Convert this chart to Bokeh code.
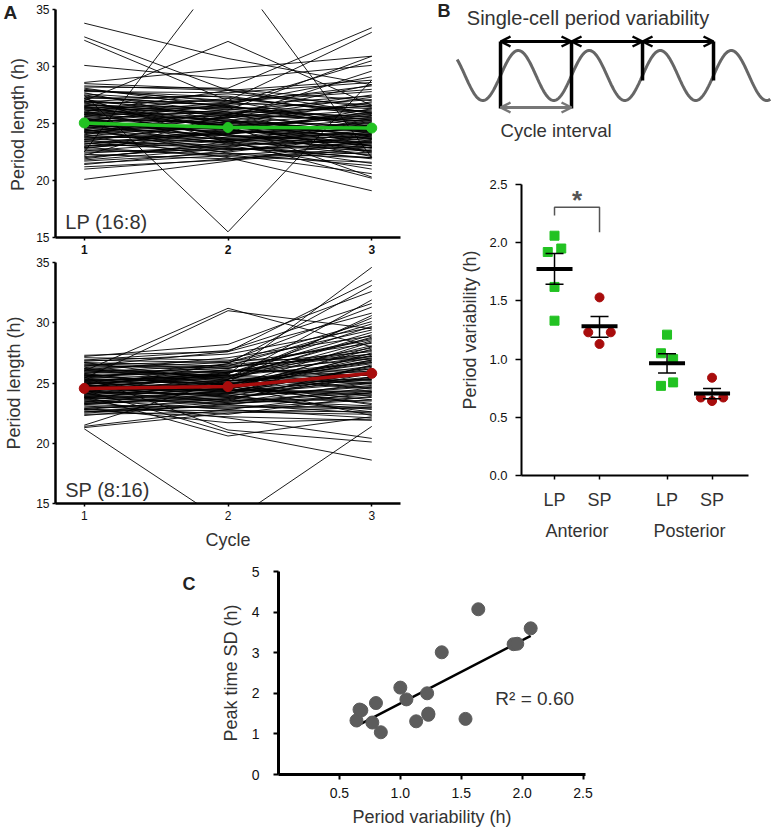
import numpy as np
from bokeh.plotting import figure
from bokeh.layouts import column, row
from bokeh.models import (Range1d, FixedTicker, LinearAxis, Arrow, OpenHead,
                          ColumnDataSource, NumeralTickFormatter)
from bokeh.embed import file_html
from bokeh.resources import INLINE
from bokeh.core.properties import value

FONT = "Liberation Sans"

# ---------------- Panel A data ----------------
cycles = [1, 2, 3]
cycle_labels = ["1", "2", "3"]

lp_cells = [
    (25.1, 24.6, 24.3), (26.3, 25.2, 24.8), (23.8, 24.1, 25.0), (27.5, 26.0, 24.1),
    (22.4, 23.0, 23.7), (24.6, 25.3, 26.2), (28.1, 26.4, 25.5), (21.5, 22.2, 23.1),
    (25.8, 24.0, 22.6), (24.0, 23.3, 24.4), (26.9, 27.6, 26.6), (23.2, 24.5, 23.0),
    (25.5, 25.0, 26.9), (27.9, 27.3, 25.9), (22.9, 22.1, 21.6), (24.3, 24.8, 25.5),
    (26.0, 23.9, 23.4), (21.9, 23.4, 24.8), (25.3, 26.2, 27.1), (27.1, 25.6, 23.8),
    (23.5, 22.8, 22.3), (24.8, 24.3, 24.0), (26.6, 25.9, 25.2), (22.1, 22.9, 22.0),
    (25.9, 26.8, 28.3), (23.0, 23.8, 24.6), (28.3, 27.9, 26.4), (24.4, 23.6, 22.9),
    (26.2, 24.7, 25.8), (21.2, 21.8, 22.5), (25.0, 25.7, 24.5), (27.3, 26.6, 27.4),
    (23.7, 24.0, 23.3), (24.9, 23.2, 21.9), (26.8, 27.0, 28.0), (22.6, 23.5, 24.2),
    (25.6, 24.9, 23.6), (24.1, 25.5, 26.6), (27.7, 25.1, 24.4), (23.3, 22.5, 23.9),
    (25.2, 24.2, 25.1), (26.4, 26.3, 24.9), (22.8, 24.3, 25.4), (24.7, 23.9, 23.1),
    (28.0, 26.9, 27.8), (23.9, 25.0, 25.9), (25.7, 25.4, 22.8), (21.7, 22.4, 21.3),
    (26.1, 27.2, 26.0), (24.2, 24.6, 24.7), (27.0, 24.4, 23.5), (22.3, 21.9, 22.7),
    (25.4, 23.7, 24.2), (26.7, 25.8, 27.5), (23.6, 24.9, 22.4), (24.5, 22.7, 23.2),
    (27.4, 26.5, 25.3), (22.0, 23.2, 23.4), (25.8, 25.9, 26.5), (23.1, 23.0, 24.1),
    (26.5, 24.5, 22.1), (24.0, 26.1, 25.6), (28.5, 28.0, 27.0), (21.4, 22.6, 24.0),
    (25.3, 25.1, 23.9), (26.9, 26.7, 29.1), (23.4, 23.1, 21.0), (24.6, 24.0, 26.3),
    (27.8, 27.7, 28.6), (22.7, 22.3, 20.6), (25.9, 24.8, 24.6), (24.3, 25.6, 27.3),
    (26.3, 26.0, 23.0), (23.0, 24.4, 26.0), (25.0, 23.5, 20.2),
    (24.4, 24.9, 23.7), (25.5, 23.6, 23.3), (26.6, 26.4, 26.1), (23.6, 23.4, 22.6),
    (25.1, 25.8, 25.2), (27.6, 26.8, 26.3), (22.5, 22.7, 23.3), (24.9, 24.5, 25.7),
    (26.0, 25.3, 24.3), (23.2, 24.2, 24.5), (25.6, 26.5, 25.0), (24.7, 24.9, 22.5),
    (26.2, 25.5, 26.8), (23.8, 23.7, 23.8), (27.2, 27.4, 25.7), (22.9, 23.6, 22.2),
    (25.3, 24.1, 24.8), (24.2, 23.4, 25.3), (26.8, 25.0, 24.0), (23.4, 25.2, 24.3),
    (25.8, 26.6, 24.6), (24.5, 22.4, 22.0), (26.5, 25.7, 25.4), (21.8, 22.8, 22.9),
    (25.2, 24.4, 23.7),
    (33.8, 30.7, 28.4), (32.6, 27.9, 25.9), (32.3, 27.0, 24.7), (30.1, 28.9, 30.1),
    (28.6, 29.8, 30.9), (20.1, 21.7, 23.6), (22.5, 39.0, 22.0), (27.5, 15.5, 28.8),
    (27.0, 32.2, 26.6), (28.2, 28.1, 33.4), (27.9, 27.0, 33.0), (26.9, 26.2, 30.9),
    (25.2, 26.7, 30.5), (24.8, 25.5, 29.6), (26.0, 27.9, 28.8), (23.9, 22.0, 19.1),
    (26.4, 24.8, 20.3), (27.2, 23.3, 21.5), (22.2, 25.8, 28.4), (21.0, 21.9, 22.9),
]
lp_mean = [25.05, 24.65, 24.6]

sp_cells = [
    (24.5, 24.6, 25.7), (25.3, 25.1, 26.8), (23.8, 24.2, 25.1), (26.1, 25.9, 27.9),
    (22.9, 23.5, 24.3), (24.9, 25.6, 27.2), (25.8, 24.4, 24.0), (23.2, 22.9, 23.6),
    (24.1, 24.9, 26.4), (26.6, 26.2, 28.6), (23.5, 23.9, 22.8), (25.0, 24.2, 25.4),
    (24.3, 25.3, 28.1), (22.6, 23.1, 23.0), (25.6, 26.0, 26.1), (24.7, 23.8, 24.8),
    (26.9, 26.7, 29.4), (23.9, 24.5, 26.9), (25.2, 25.7, 25.0), (22.4, 22.6, 22.4),
    (24.8, 24.1, 27.5), (26.3, 25.4, 24.5), (23.3, 23.6, 25.8), (25.5, 26.4, 29.9),
    (24.0, 24.7, 23.3), (27.1, 26.9, 27.0), (23.6, 22.8, 22.1), (25.1, 25.0, 26.6),
    (24.4, 23.4, 24.2), (26.0, 27.1, 28.9), (22.8, 23.7, 25.5), (25.7, 24.8, 23.6),
    (24.2, 25.9, 27.7), (23.1, 22.4, 23.9), (25.9, 25.5, 30.4), (24.6, 24.3, 26.2),
    (26.7, 25.2, 25.3), (23.7, 24.0, 22.6), (25.4, 26.6, 28.3), (24.9, 23.9, 25.9),
    (22.5, 23.2, 24.6), (26.4, 26.3, 27.4), (23.4, 24.4, 28.0), (25.3, 24.5, 24.1),
    (24.1, 25.2, 26.0), (27.3, 27.6, 30.8), (23.0, 23.0, 22.9), (25.6, 24.7, 27.1),
    (24.5, 25.8, 29.2), (26.2, 24.9, 23.2), (22.7, 22.2, 21.9), (25.0, 26.1, 25.6),
    (24.8, 23.5, 26.5), (23.8, 24.6, 27.3), (26.5, 26.8, 31.3), (24.3, 24.0, 24.4),
    (25.7, 25.3, 28.5), (23.5, 22.1, 20.4), (24.6, 25.0, 25.2), (26.8, 27.4, 29.6),
    (22.3, 23.3, 23.8), (25.1, 24.3, 26.3), (24.0, 24.8, 22.3), (25.9, 26.5, 27.6),
    (23.3, 23.8, 24.7), (24.7, 25.4, 29.0), (26.1, 25.6, 26.7), (24.2, 24.1, 25.0),
    (24.8, 24.4, 25.5), (25.6, 25.9, 27.0), (23.9, 23.3, 24.0), (25.2, 25.5, 28.8),
    (24.4, 24.9, 26.7), (26.5, 26.0, 25.9), (23.4, 23.7, 23.5), (25.0, 24.6, 27.8),
    (24.7, 25.5, 24.6), (26.2, 26.7, 30.1), (23.6, 24.3, 25.3), (25.4, 24.9, 26.9),
    (24.0, 23.6, 23.1), (25.8, 26.2, 28.7), (22.8, 22.7, 22.6), (24.9, 25.9, 27.4),
    (26.0, 25.6, 24.9), (23.2, 24.1, 26.4), (25.5, 25.2, 25.8), (24.3, 24.7, 28.4),
    (26.7, 26.4, 27.2), (23.8, 23.2, 22.5), (25.1, 25.8, 29.7), (24.6, 24.4, 24.3),
    (22.6, 23.4, 25.0),
    (21.2, 13.3, 21.4), (21.4, 22.8, 24.2), (21.3, 22.5, 23.0), (21.5, 25.3, 31.9),
    (26.0, 31.2, 28.0), (25.4, 31.0, 29.5), (27.2, 28.2, 32.6), (26.4, 27.6, 33.5),
    (24.9, 25.7, 34.6), (23.9, 20.6, 22.2), (24.4, 20.9, 18.6), (25.5, 21.1, 20.1),
    (22.9, 21.7, 22.0), (26.9, 27.7, 31.6), (24.6, 26.6, 33.1), (23.7, 25.1, 30.6),
]
sp_mean = [24.55, 24.7, 25.8]
a_yticks = [15, 20, 25, 30, 35]
a_ylabel = "Period length (h)"

GREEN = "#22c222"
RED = "#a80c0c"


def style_axis(ax, tick_px, label_px=18):
    ax.major_label_text_font = FONT
    ax.major_label_text_font_size = f"{tick_px}px"
    ax.major_label_text_color = "#111111"
    ax.axis_label_text_font = FONT
    ax.axis_label_text_font_style = "normal"
    ax.axis_label_text_font_size = f"{label_px}px"
    ax.axis_label_text_color = "#333333"
    ax.minor_tick_line_color = None
    ax.axis_line_color = "black"
    ax.major_tick_line_color = "black"


def blank_fig(width, height):
    f = figure(width=width, height=height, x_range=Range1d(0, width), y_range=Range1d(height, 0),
               output_backend="svg", toolbar_location=None, x_axis_location=None,
               y_axis_location=None, min_border=0, min_border_left=0, min_border_right=0,
               min_border_top=0, min_border_bottom=0)
    f.frame_align = False
    f.grid.grid_line_color = None
    f.outline_line_color = None
    return f


def panel_a(cells, mean, color, width, height, left, top, bottom, bold, tag, tag_y, ylabel, xlabel):
    p = figure(width=width, height=height, x_range=Range1d(0.8, 3.2), y_range=Range1d(15, 35),
               output_backend="svg", toolbar_location=None,
               min_border_left=left, min_border_right=10, min_border_top=top,
               min_border_bottom=bottom)
    p.frame_align = False
    p.grid.grid_line_color = None
    p.outline_line_color = None
    xs = [cycles for _ in cells]
    ys = [list(c) for c in cells]
    p.multi_line(xs, ys, line_color="black", line_width=0.9)
    p.line(cycles, mean, line_color=color, line_width=3.5)
    p.scatter(cycles, mean, size=10, color=color)
    p.xaxis.ticker = FixedTicker(ticks=cycles)
    p.xaxis.major_label_overrides = {c: l for c, l in zip(cycles, cycle_labels)}
    p.yaxis.ticker = FixedTicker(ticks=a_yticks)
    for ax in (p.xaxis[0], p.yaxis[0]):
        style_axis(ax, 12)
        ax.axis_line_width = 2.5
        ax.major_tick_line_width = 1.5
        ax.major_tick_out = 3
        ax.major_tick_in = 0
    p.yaxis.major_label_standoff = 3
    if ylabel:
        p.yaxis.axis_label = ylabel
        p.yaxis.axis_label_standoff = 9
    p.xaxis.major_label_standoff = 4
    if bold:
        p.xaxis.major_label_text_font_style = "bold"
    if xlabel:
        p.xaxis.axis_label = xlabel
        p.xaxis.axis_label_standoff = 7
    p.text(x=[0.868], y=[tag_y], text=[tag], text_font=value(FONT), text_font_size="20px",
           text_color="#333333", text_baseline="middle", text_align="left")
    return p


# left strip for panel A (letter + y label of the upper plot)
pAL = blank_fig(30, 256)
pAL.text(x=[3], y=[12], text=["A"], text_font=value(FONT), text_font_size="19px",
         text_font_style="bold", text_color="#222222", text_baseline="middle", text_align="left")
pAL.text(x=[17], y=[124], text=[a_ylabel], text_font=value(FONT), text_font_size="18px",
         text_color="#333333", text_baseline="middle", text_align="center", angle=np.pi / 2)

pA1 = panel_a(lp_cells, lp_mean, GREEN, 380, 256, 25, 9, 17, True, "LP (16:8)", 16.39, None, None)
pA2 = panel_a(sp_cells, sp_mean, RED, 410, 298, 55, 6, 51, False, "SP (8:16)", 16.08,
              a_ylabel, "Cycle")

# ---------------- Panel B schematic ----------------
cycle_marks = [0, 1, 2, 3]
mark_bottoms = [-1.32, -1.32, -0.2, -0.2]
arrow_level = 1.36
interval_level = -1.28

pD = figure(width=366, height=160, x_range=Range1d(-1.268, 3.887), y_range=Range1d(-3.4, 3.0),
            output_backend="svg", toolbar_location=None, x_axis_location=None,
            y_axis_location=None, min_border=0, min_border_left=0, min_border_right=0,
            min_border_top=0, min_border_bottom=0)
pD.frame_align = False
pD.grid.grid_line_color = None
pD.outline_line_color = None
t = np.linspace(-0.61, 3.8, 500)
pD.line(t, np.sin(2 * np.pi * t), line_color="#666666", line_width=3)
pD.segment(x0=cycle_marks, y0=[arrow_level] * 4, x1=cycle_marks, y1=mark_bottoms,
           line_color="black", line_width=3.5)
arr_src = ColumnDataSource(dict(x0=cycle_marks[:-1], x1=cycle_marks[1:], y=[arrow_level] * 3))
pD.add_layout(Arrow(source=arr_src, x_start="x0", x_end="x1", y_start="y", y_end="y",
                    line_width=3, line_color="black",
                    start=OpenHead(size=10, line_width=2.5, line_color="black"),
                    end=OpenHead(size=10, line_width=2.5, line_color="black")))
pD.add_layout(Arrow(x_start=cycle_marks[0], x_end=cycle_marks[1], y_start=interval_level,
                    y_end=interval_level, line_width=3, line_color="#777777",
                    start=OpenHead(size=10, line_width=2.5, line_color="#777777"),
                    end=OpenHead(size=10, line_width=2.5, line_color="#777777")))
pD.text(x=[1.232], y=[2.32], text=["Single-cell period variability"], text_font=value(FONT),
        text_font_size="20px", text_color="#333333", text_align="center", text_baseline="middle")
pD.text(x=[0.0], y=[-2.2], text=["Cycle interval"], text_font=value(FONT),
        text_font_size="18.5px", text_color="#333333", text_align="left", text_baseline="middle")
pD.text(x=[-0.887], y=[2.6], text=["B"], text_font=value(FONT), text_font_style="bold",
        text_font_size="18px", text_color="#222222", text_align="left", text_baseline="middle")

# ---------------- Panel B scatter ----------------
group_pos = [2, 4, 7, 9]
group_ticks = ["LP", "SP", "LP", "SP"]
region_pos = [3, 8]
region_labels = ["Anterior", "Posterior"]

ant_lp = [2.06, 1.95, 1.92, 1.62, 1.33]
ant_lp_off = [0.0, 0.3, -0.3, 0.0, 0.0]
ant_sp = [1.53, 1.23, 1.23, 1.13]
ant_sp_off = [0.0, -0.5, 0.5, 0.0]
post_lp = [1.21, 1.05, 1.00, 0.80, 0.77]
post_lp_off = [0.0, -0.27, 0.27, 0.27, -0.27]
post_sp = [0.84, 0.67, 0.67, 0.64]
post_sp_off = [0.0, -0.5, 0.5, 0.0]
group_mean = [1.775, 1.283, 0.965, 0.704]
sem_hi = [1.907, 1.366, 1.045, 0.747]
sem_lo = [1.644, 1.188, 0.88, 0.659]
sig_y = [2.234, 2.305, 2.305, 2.09]

pB = figure(width=366, height=395, x_range=Range1d(0.533, 10.62), y_range=Range1d(0, 2.5),
            output_backend="svg", toolbar_location=None,
            min_border_left=111, min_border_right=28, min_border_top=24, min_border_bottom=80)
pB.frame_align = False
pB.grid.grid_line_color = None
pB.outline_line_color = None

pB.scatter([group_pos[0] + o for o in ant_lp_off], ant_lp, marker="square", size=9,
           color=GREEN)
pB.scatter([group_pos[1] + o for o in ant_sp_off], ant_sp, marker="circle", size=9,
           color=RED)
pB.scatter([group_pos[2] + o for o in post_lp_off], post_lp, marker="square", size=9,
           color=GREEN)
pB.scatter([group_pos[3] + o for o in post_sp_off], post_sp, marker="circle", size=9,
           color=RED)
pB.segment(x0=group_pos, y0=sem_lo, x1=group_pos, y1=sem_hi, line_color="black", line_width=1.5)
pB.segment(x0=[g - 0.4 for g in group_pos], y0=sem_hi, x1=[g + 0.4 for g in group_pos], y1=sem_hi,
           line_color="black", line_width=1.5)
pB.segment(x0=[g - 0.4 for g in group_pos], y0=sem_lo, x1=[g + 0.4 for g in group_pos], y1=sem_lo,
           line_color="black", line_width=1.5)
pB.segment(x0=[g - 0.8 for g in group_pos], y0=group_mean, x1=[g + 0.8 for g in group_pos],
           y1=group_mean, line_color="black", line_width=4)
pB.line([group_pos[0], group_pos[0], group_pos[1], group_pos[1]], sig_y,
        line_color="#555555", line_width=1.5)
pB.text(x=[3.0], y=[2.37], text=["*"], text_font=value(FONT), text_font_size="26px",
        text_font_style="bold", text_color="#555555", text_align="center", text_baseline="middle")

pB.yaxis.ticker = FixedTicker(ticks=[0, 0.5, 1.0, 1.5, 2.0, 2.5])
pB.yaxis.formatter = NumeralTickFormatter(format="0.0")
pB.xaxis.ticker = FixedTicker(ticks=group_pos)
pB.xaxis.major_label_overrides = {g: l for g, l in zip(group_pos, group_ticks)}
for ax in (pB.xaxis[0], pB.yaxis[0]):
    style_axis(ax, 13)
    ax.axis_line_width = 2
    ax.major_tick_line_width = 1.5
    ax.major_tick_out = 6
    ax.major_tick_in = 0
pB.xaxis.major_label_text_font_size = "18px"
pB.xaxis.major_label_text_color = "#333333"
pB.xaxis.major_tick_out = 4
pB.xaxis.major_label_standoff = 10
pB.yaxis.major_label_standoff = 8
pB.yaxis.axis_label = "Period variability (h)"
pB.yaxis.axis_label_standoff = 6
region_axis = LinearAxis(ticker=FixedTicker(ticks=region_pos),
                         major_label_overrides={r: l for r, l in zip(region_pos, region_labels)})
style_axis(region_axis, 18)
region_axis.major_label_text_color = "#333333"
region_axis.axis_line_color = None
region_axis.major_tick_line_color = None
region_axis.major_label_standoff = 2
pB.add_layout(region_axis, "below")

# ---------------- Panel C ----------------
pv = [0.64, 0.665, 0.68, 0.84, 0.77, 0.80, 1.00, 1.05, 1.22, 1.13, 1.23, 1.23, 1.535,
      1.34, 1.64, 1.93, 1.96, 2.07]
psd = [1.33, 1.60, 1.58, 1.04, 1.28, 1.76, 2.14, 1.85, 2.00, 1.31, 1.47, 1.50, 1.37,
       3.01, 4.07, 3.21, 3.22, 3.60]
r2_text = "R\u00b2 = 0.60"

pCL = blank_fig(217, 275)
pCL.text(x=[182], y=[28], text=["C"], text_font=value(FONT), text_font_size="18px",
         text_font_style="bold", text_color="#222222", text_baseline="middle", text_align="left")

pC = figure(width=559, height=275, x_range=Range1d(0, 2.52), y_range=Range1d(0, 5),
            output_backend="svg", toolbar_location=None,
            min_border_left=60, min_border_right=191, min_border_top=16, min_border_bottom=56)
pC.frame_align = False
pC.grid.grid_line_color = None
pC.outline_line_color = None
slope, intercept = np.polyfit(pv, psd, 1)
fx = [min(pv), max(pv)]
pC.line(fx, [slope * v + intercept for v in fx], line_color="black", line_width=2.5)
pC.scatter(pv, psd, size=13, color="#5c5c5c")
pC.xaxis.ticker = FixedTicker(ticks=[0.5, 1.0, 1.5, 2.0, 2.5])
pC.xaxis.formatter = NumeralTickFormatter(format="0.0")
pC.yaxis.ticker = FixedTicker(ticks=[0, 1, 2, 3, 4, 5])
for ax in (pC.xaxis[0], pC.yaxis[0]):
    style_axis(ax, 14)
    ax.axis_line_width = 3
    ax.major_tick_line_width = 2
    ax.major_tick_out = 5
    ax.major_tick_in = 0
pC.xaxis.major_label_standoff = 8
pC.yaxis.major_label_standoff = 14
pC.xaxis.axis_label = "Period variability (h)"
pC.xaxis.axis_label_standoff = 6
pC.yaxis.axis_label = "Peak time SD (h)"
pC.yaxis.axis_label_standoff = 8
pC.text(x=[1.78], y=[1.87], text=[r2_text], text_font=value(FONT), text_font_size="19px",
        text_color="#333333", text_baseline="middle", text_align="left")

layout = column(
    row(column(row(pAL, pA1, spacing=0), pA2, spacing=0), column(pD, pB, spacing=0), spacing=0),
    row(pCL, pC, spacing=0),
    spacing=0)

open("out.html", "w").write(file_html(layout, INLINE))
